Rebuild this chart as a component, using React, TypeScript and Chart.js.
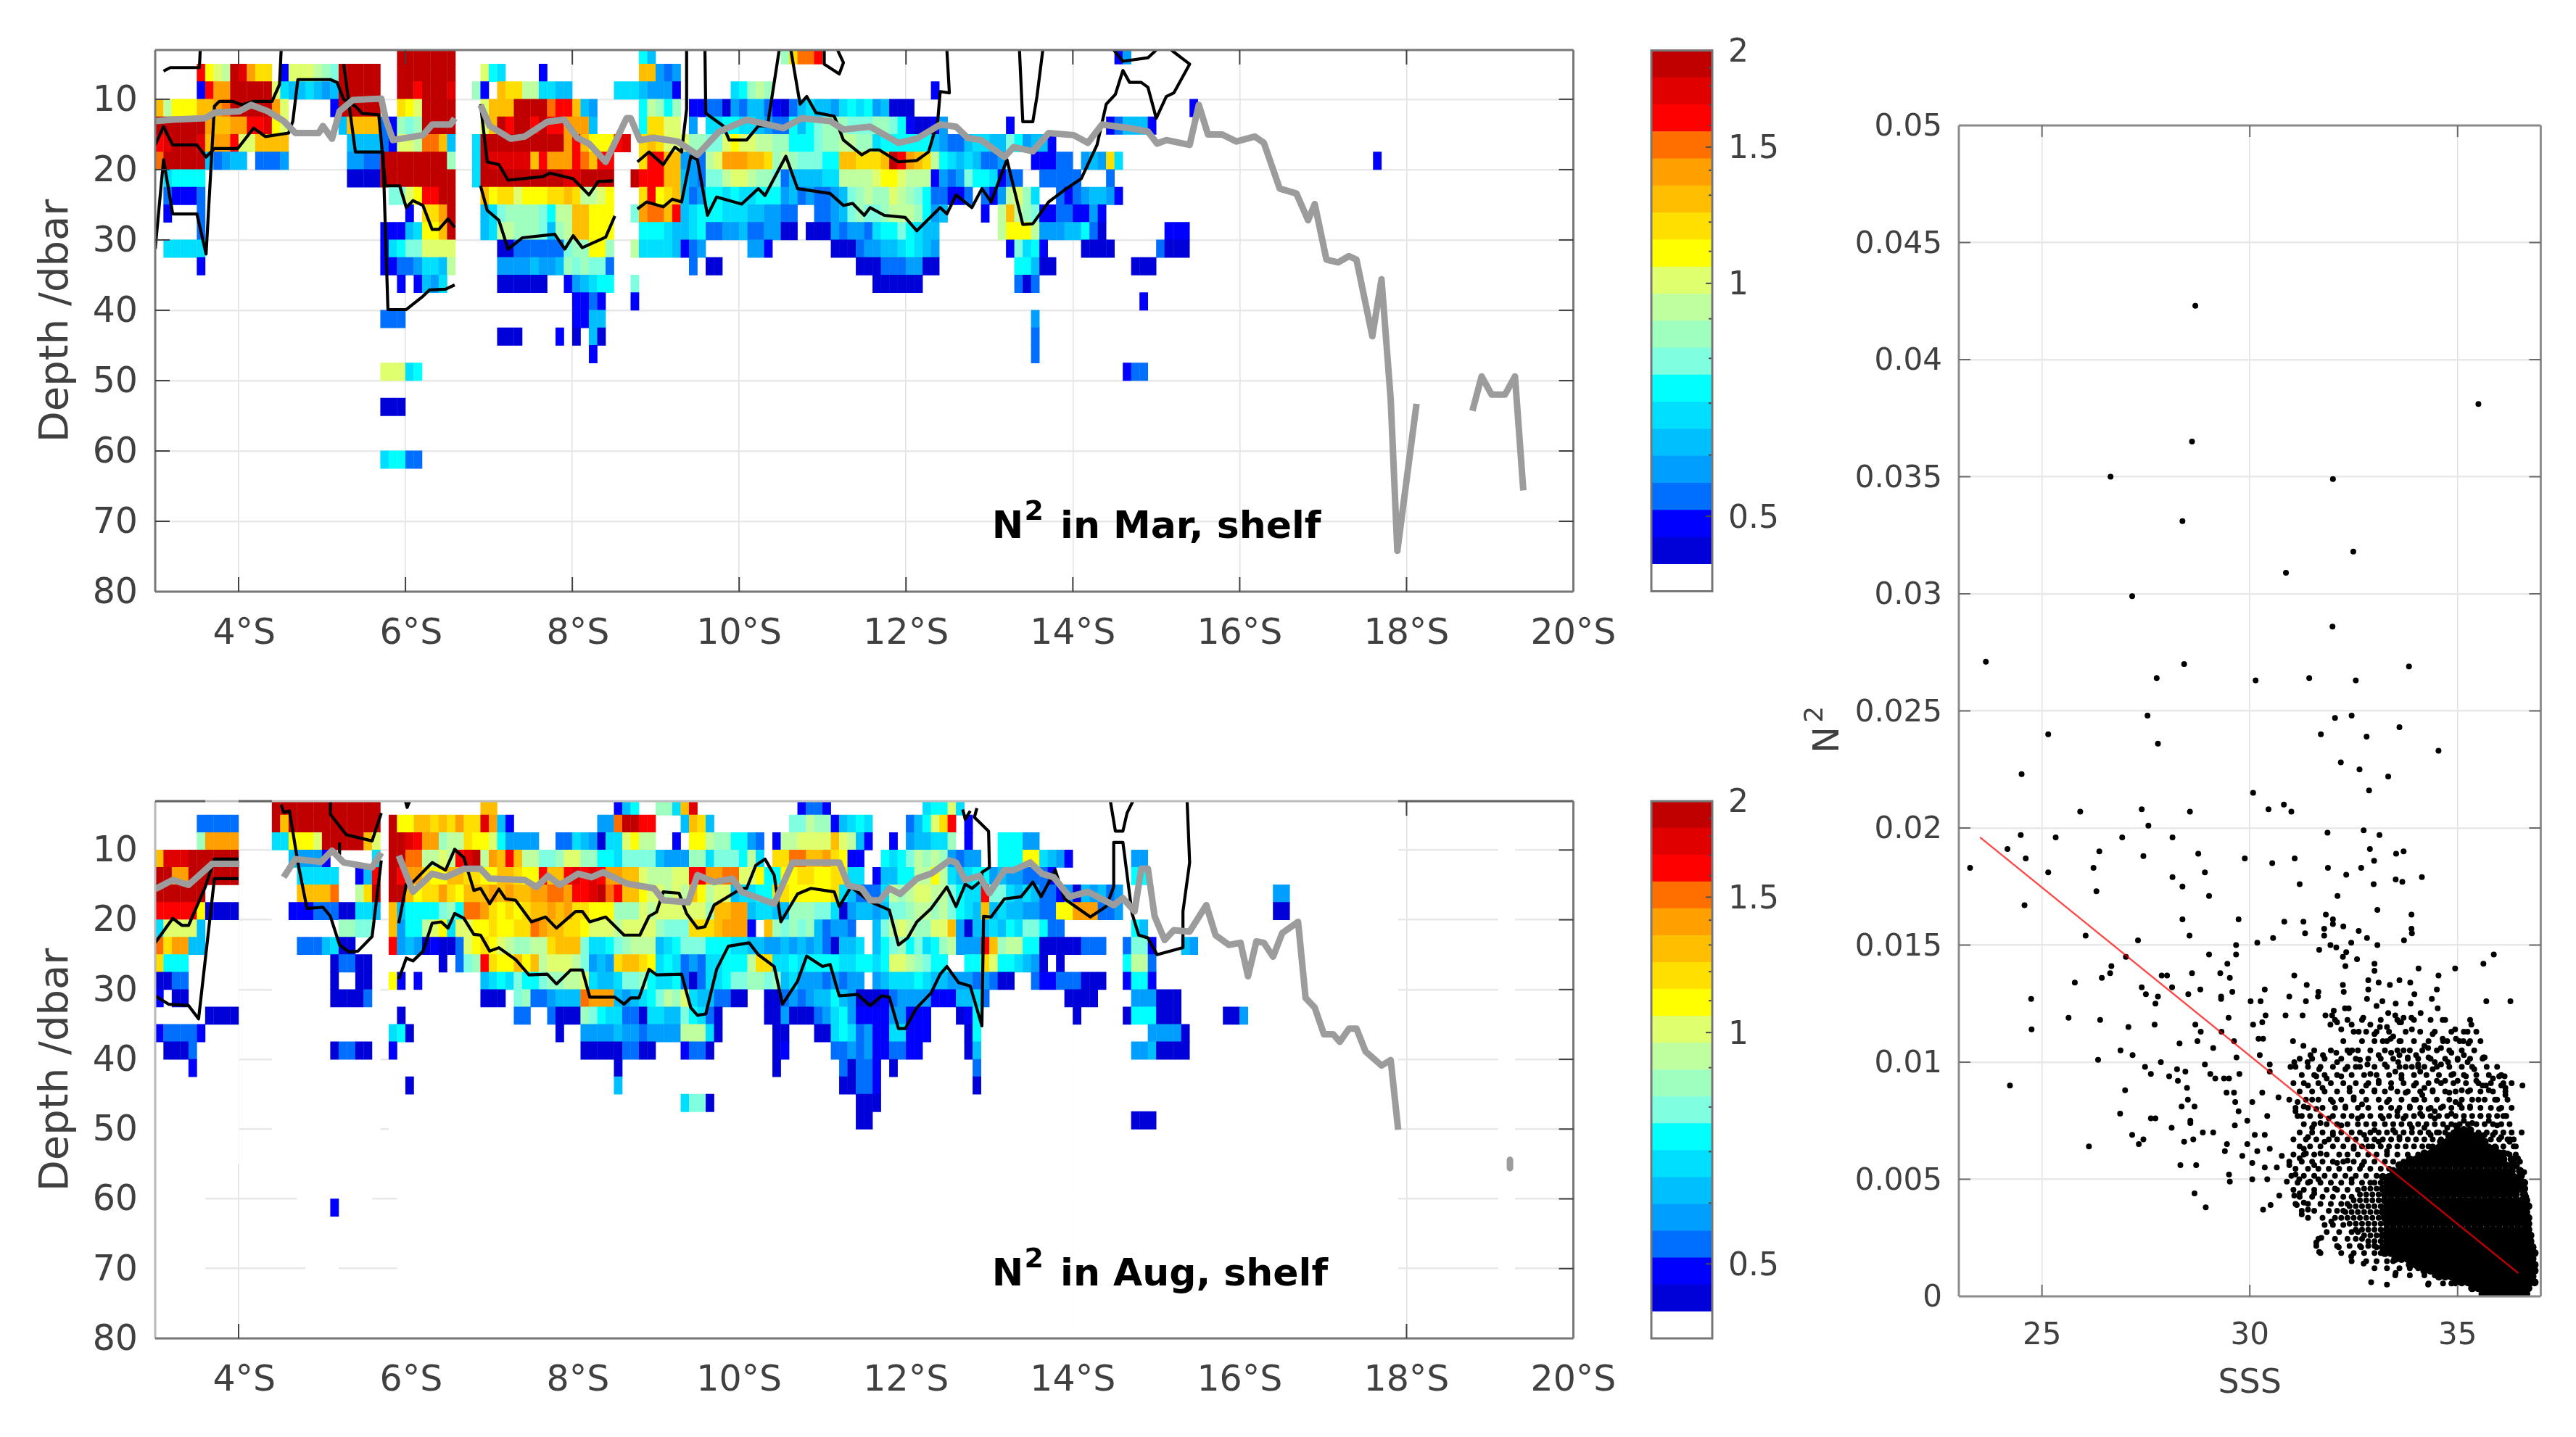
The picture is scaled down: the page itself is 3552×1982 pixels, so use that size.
import React, { useEffect, useRef } from "react";
import { Chart, registerables } from "chart.js";

Chart.register(...registerables);

// ---------- colour levels of the N2 scale (log spaced, 0.4 to 2) ----------
const levelEdges = [0.4, 0.4335, 0.4698, 0.5092, 0.5519, 0.5981, 0.6482, 0.7026, 0.7615, 0.8253, 0.8944, 0.9694, 1.0506, 1.1386, 1.234, 1.3375, 1.4496, 1.571, 1.7027, 1.8454, 2];
const levelColors = ["#ffffff", "#0000d8", "#0000ff", "#006fff", "#009fff", "#00bfff", "#00dfff", "#00ffff", "#7fffdf", "#9fffbf", "#c0ff9f", "#dfff6f", "#ffff00", "#ffdf00", "#ffbf00", "#ff9f00", "#ff6f00", "#ff0000", "#e00000", "#c00000"];
const levelCodes = ".abcdefghijklmnopqrs";
const colorbarTicks = [0.5, 0.6, 0.7, 0.8, 0.9, 1, 1.1, 1.2, 1.3, 1.4, 1.5, 1.6, 1.7, 1.8, 1.9, 2];
const colorbarLabels = [0.5, 1, 1.5, 2];

const depthEdges = [3, 5, 7.5, 10, 12.5, 15, 17.5, 20, 22.5, 25, 27.5, 30, 32.5, 35, 37.5, 40, 42.5, 45, 47.5, 50, 52.5, 55, 57.5, 60, 62.5, 65, 67.5, 70, 72.5, 75, 77.5, 80];
const latTicks = [4, 6, 8, 10, 12, 14, 16, 18, 20];
const depthTicks = [10, 20, 30, 40, 50, 60, 70, 80];

// ---------- March cells: [depth row, first 0.1 degree column, level codes] ----------
const marCells: [number, number, string][] = [
  [0, 29, "sssssss"], [0, 58, "ge"], [0, 75, "imppq"], [0, 115, "bd"],
  [1, 5, "qlkjsromm.bkkkjihsssss"], [1, 29, "sssssss"], [1, 39, "kgf"], [1, 46, "b"], [1, 58, "nndcd"],
  [2, 5, "bqoosssss"], [2, 14, "kfeefede"], [2, 22, "sssss"], [2, 29, "ssqsssr"], [2, 38, "ib.nmmjjffee"], [2, 55, "fffedddb"], [2, 69, "fgiji"], [2, 93, "b"],
  [3, 0, "njlllnnopsssssok"], [3, 21, "bsssss"], [3, 29, "mlkssss"], [3, 39, "knnnsssspqqned"], [3, 58, "gjigi.bbccadceecbacefeedfgfg"], [3, 86, "deaaa"], [3, 124, "b"],
  [4, 0, "ssssssonnooqqrlk"], [4, 22, "ennnncb"], [4, 29, "ihissss"], [4, 39, "knsqssqsqqoooe"], [4, 58, "gmmkk.d.ffggffedccgeghiiihhhh"], [4, 86, "iihgbaabd"], [4, 102, "b"], [4, 114, "bceeeb"],
  [5, 0, "qrsssrnooqkknnnn"], [5, 23, "eeeecbkkjppne"], [5, 38, "f"], [5, 39, "ssssssssssoqnlllqr"], [5, 58, "mnmkkkiihhklkkjjiiggghiijjii"], [5, 86, "fggggggedcceffeehgdeeb"],
  [6, 0, "psssssecdee.cccd"], [6, 23, "ddccssssssssi"], [6, 38, "f"], [6, 39, "srrrrrnqoooqpnqq"], [6, 58, "mqqnnddcjkooonnmijihhhggnnmm"], [6, 86, "mnsqonmjgfefeccd"], [6, 105, "bbbcc"], [6, 111, "dedmf"], [6, 146, "b"],
  [7, 1, "fgggg"], [7, 23, "aaaa"], [7, 27, "sssssssss"], [7, 38, "f"], [7, 39, "ssssssssssrrssss"], [7, 57, "sqqqnn"], [7, 63, "edchhjkkjiihceeeeffjjjj"], [7, 86, "kllkjjjbdcdhggfb"], [7, 102, "cc"], [7, 106, "ccccc"], [7, 114, "c"],
  [8, 1, "cbbbc"], [8, 28, "hhklqqss"], [8, 39, "nlmmklllmmnmjjkl"], [8, 58, "mqlmn"], [8, 63, "ecdggfgffgggdecdccdehij"], [8, 86, "iikjihgccbbc.cbdjkif..cbcdeedb"],
  [9, 1, "b"], [9, 5, "c"], [9, 30, "b.mmos"], [9, 39, "efhiiiihgjjnnlll"], [9, 57, "h"], [9, 58, "oppnq"], [9, 63, "efgggfffeeddcc..ccdehih"], [9, 86, "hijjjigde"], [9, 99, "b"], [9, 101, "jnjih"], [9, 106, "bbccbbdb"],
  [10, 5, "c"], [10, 27, "bbbefllns"], [10, 39, "efjjiiiheijnnlll"], [10, 58, "gggfeefgccddeccddaa.aaadcddc"], [10, 86, "fgghgfee"], [10, 101, "jlllj"], [10, 106, "dddeegca"], [10, 121, "bbb"],
  [11, 1, "fffff"], [11, 27, "bfghhkkkk"], [11, 41, "aacccccchiilli"], [11, 57, "j"], [11, 58, "ffffebcd"], [11, 71, "ddb"], [11, 81, "aaacd"], [11, 86, "deefgfed"], [11, 102, "bhfgb"], [11, 111, "aaaa"], [11, 120, "caaa"],
  [12, 5, "b"], [12, 27, "bbccdffej"], [12, 41, "ddddeddeihihhc"], [12, 64, "c"], [12, 66, "aa"], [12, 84, "a"], [12, 85, "aacccddaa"], [12, 103, "ggeaa"], [12, 117, "aaa"],
  [13, 29, "b.bedf"], [13, 41, "aaaaaa"], [13, 49, "bdefgg"], [13, 57, "h"], [13, 86, "aaaaaa"], [13, 103, "cac"],
  [14, 50, "bbcb"], [14, 57, "b"], [14, 118, "b"],
  [15, 27, "ccc"], [15, 50, "bbee"], [15, 105, "d"],
  [16, 41, "aaa"], [16, 48, "b"], [16, 50, "a"], [16, 52, "ea"], [16, 105, "c"],
  [17, 52, "b"], [17, 105, "c"],
  [18, 27, "kkkfg"], [18, 116, "bcc"],
  [20, 27, "aaa"],
  [23, 27, "fggcc"],
];

// ---------- August cells ----------
const augCells: [number, number, string][] = [
  [0, 14, "sssssssssssss"], [0, 39, "nn"], [0, 55, "beg"], [0, 60, "iifnr"], [0, 77, "bccb"], [0, 92, "fggkf"],
  [1, 5, "ccccc"], [1, 14, "snsssssssssss"], [1, 28, "sllnnmnmommroeb"], [1, 53, "ddpssqq"], [1, 63, "enme"], [1, 76, "hhjiibefgf"], [1, 90, "cegkmq.b"],
  [2, 5, "ioooo"], [2, 14, "fflllksssssnk"], [2, 28, "ssrqooijjmllkgdddd"], [2, 48, "ccfedaffkljj"], [2, 62, "b.lljiiggdc.bjjkkkknkjeb"], [2, 88, "b.deeffi"], [2, 97, "b"], [2, 101, "gggdd"],
  [3, 0, "nrrrssssss"], [3, 16, "edddb"], [3, 26, "f"], [3, 28, "ssppjjkjqrsjonqnjjhhikkiiggfhhhheddd"], [3, 64, "iifhhhgjf.mmppnnomlbb"], [3, 87, "gfghjiji"], [3, 95, "dcdd"], [3, 101, "gggllfedb"], [3, 117, "dd"],
  [4, 0, "ssoossssss"], [4, 17, "fffff"], [4, 24, "beq"], [4, 28, "sqoomllnnmmllnnmllqnnqrqrqoonnkjjjkkqqooppkklggllmmllmmff.b"], [4, 87, "eeggjjljfefggdeddcccb"], [4, 117, "gg"],
  [5, 0, "ssssss"], [5, 17, "nnnnp"], [5, 24, "jms"], [5, 28, "ssnlmmomlnnnononnooppoqqrspqnnlkkjkjnljkkeffggmmlllllmfecc"], [5, 86, "cfjijkkjjhgffqhhfefeccbdaedecd"], [5, 134, "dd"],
  [6, 0, "qqqqqlaaaa"], [6, 16, "bbbcccaaffe"], [6, 28, "negggghigppomlmlmnnonommllliiikjkkkkkkinnooeffeeiiihhfadee"], [6, 86, "dehhijjijhgfenefeeddcclloooccd"], [6, 134, "aa"],
  [7, 0, "fkkkke"], [7, 22, "iihh"], [7, 28, "ndggjklfkkllmllmmponnmmlkkkjkkkkihhhmmmnooob.nihihiecddc"], [7, 86, "ehjkjiikkndaeefegfhhgcc"], [7, 117, "ge"],
  [8, 0, "pmooee"], [8, 17, "cccefaa"], [8, 28, "qdedabaacklmlkjiijjmnnnhffghijjjefghhhgggffeeddededecaeef"], [8, 86, "eghighfgijdddqnijjggaaaaaccc"], [8, 116, "chhb"], [8, 123, "ed"],
  [9, 0, "mggg"], [9, 21, "accaa"], [9, 34, "a.chi"], [9, 39, "qmllnlnjkkkjhdedmnnmlfgfcdcffgggjmmffgfggggffgg"], [9, 86, "fgkkjihgg..ggmkggfeda.a"], [9, 116, "gjjc"],
  [10, 0, "aacc"], [10, 21, "a..aa"], [10, 28, "lb.b"], [10, 39, "efgfhgghiijjkfeefhhigffgcacffghhiihiefdddcdcdd"], [10, 86, "defffgfeedddcdcaa..cbbcccaaa"], [10, 116, "bggb"],
  [11, 0, "b.aa"], [11, 21, "aaaac"], [11, 39, "aaa"], [11, 43, "hiccdeeepoooedefghjikfeeccaa"], [11, 73, "aacdcdeegedaa"], [11, 86, "abcddddbbbeefc"], [11, 109, "aaaa"], [11, 117, "dddaaa"],
  [12, 6, "aaaa"], [12, 29, "a"], [12, 43, "cc"], [12, 47, "caaaihgffccaffeehgfca"], [12, 73, "aadaaacdfgdbb"], [12, 86, "bbddbbb"], [12, 96, "abg"], [12, 110, "a"], [12, 116, "agggaaa"], [12, 128, "aad"],
  [13, 0, "bccccb"], [13, 28, "fga"], [13, 48, "a"], [13, 51, "ddddeddcddddjjjfa"], [13, 74, "aa"], [13, 79, "aafgfcd"], [13, 86, "bbffbbb"], [13, 97, "ag"], [13, 119, "dddda"],
  [14, 1, "aaac"], [14, 21, "accaa"], [14, 28, "b"], [14, 51, "aaaaaccaa"], [14, 63, "bcca"], [14, 74, "ab"], [14, 81, "ccdcdbb"], [14, 88, "cc"], [14, 90, "bb"], [14, 97, "ae"], [14, 117, "ddeaaaa"],
  [15, 4, "b"], [15, 55, "a"], [15, 74, "a"], [15, 82, "caccb"], [15, 88, "a"], [15, 98, "c"],
  [16, 30, "a"], [16, 55, "e"], [16, 82, "aaccb"], [16, 98, "a"],
  [17, 63, "fhha"], [17, 84, "aaa"],
  [18, 84, "aa"], [18, 117, "aaa"],
  [23, 21, "b"],
];

// white (masked) August columns: [first column, last column, top depth, bottom depth]
const augMask: [number, number, number, number][] = [
  [0, 5, 3, 80], [6, 9, 3, 55], [14, 16, 3, 55], [17, 17, 3, 65], [18, 21, 3, 75], [22, 25, 3, 65], [26, 26, 3, 55], [28, 28, 3, 55], [29, 148, 3, 80], [161, 162, 3, 75],
];

// ---------- March lines: [latitudes, depths] ----------
const marGray0 = [[3.0, 3.21, 3.6, 3.71, 4.01, 4.15, 4.35, 4.54, 4.68, 4.96, 5.01, 5.12, 5.21, 5.37, 5.71, 5.76, 5.85, 6.21, 6.32, 6.54, 6.59], [13.1, 12.9, 12.7, 11.9, 11.7, 10.8, 11.7, 13.1, 14.8, 14.8, 13.8, 15.6, 11.7, 10.1, 9.9, 12.7, 15.8, 15.1, 13.6, 13.6, 12.7]];
const marGray1 = [[6.9, 7.01, 7.26, 7.43, 7.7, 7.9, 8.06, 8.2, 8.4, 8.65, 8.7, 8.81, 8.98, 9.26, 9.5, 9.76, 10.09, 10.53, 10.75, 11.09, 11.25, 11.57, 11.91, 12.13, 12.41, 12.6, 12.74, 12.9, 13.18, 13.29, 13.52, 13.71, 14.01, 14.18, 14.35, 14.68, 14.9, 15.01, 15.12, 15.4, 15.51, 15.62, 15.79, 15.96, 16.18, 16.29, 16.48, 16.68, 16.82, 16.9, 17.04, 17.18, 17.31, 17.4, 17.59, 17.7, 17.81, 17.89, 18.07, 18.12],
  [10.8, 13.8, 15.6, 15.3, 13.2, 12.9, 15.5, 16.3, 18.9, 12.7, 12.7, 15.8, 15.5, 16, 17.9, 14.6, 12.9, 14.1, 12.7, 13.1, 14.3, 13.9, 16.2, 15.6, 13.6, 13.9, 15.5, 15.8, 18.2, 16.8, 17.4, 14.8, 15.1, 16.2, 13.6, 14.1, 14.6, 16.3, 15.8, 16.5, 10.8, 15, 15, 16, 15.3, 16.2, 22.7, 23.4, 27.2, 24.9, 32.8, 33.2, 32.3, 32.8, 43.7, 35.6, 52.6, 74.2, 57.8, 53.3]];
const marGray2 = [[18.79, 18.9, 19.02, 19.18, 19.3, 19.4], [54.3, 49.4, 52, 52, 49.4, 65.6]];
const marBlack0 = [[3.1, 3.18, 3.53, 3.54], [6, 5.5, 5.5, 3]];
const marBlack1 = [[3.0, 3.1, 3.21, 3.5, 3.61, 3.71, 3.77, 3.93, 4.04, 4.18, 4.4, 4.49, 4.51], [31.3, 18.6, 26.3, 26.3, 32, 11, 10.3, 10.3, 10.8, 10.3, 10.3, 7.9, 3]];
const marBlack2 = [[3.0, 3.1, 3.21, 3.5, 3.61, 3.71, 3.99, 4.18, 4.32, 4.6, 4.65, 4.71, 5.1, 5.18, 5.26, 5.4, 5.48, 5.68, 5.76, 5.93, 6.01, 6.09, 6.21, 6.32, 6.4, 6.51, 6.59], [16.5, 13.9, 16.5, 16.5, 18.2, 17, 17, 14.1, 15.3, 14.8, 13.1, 7.2, 7.2, 7.6, 10, 11, 12, 12.2, 22.3, 22.3, 25.4, 24.4, 25.1, 28.5, 28.5, 27, 28.2]];
const marBlack3 = [[5.26, 5.4, 5.73, 5.79, 6.01, 6.21, 6.29, 6.48, 6.59], [5, 17.5, 17.5, 39.9, 39.9, 38, 37.1, 37, 36.4]];
const marBlack4 = [[6.9, 6.98, 7.12, 7.23, 7.65, 7.73, 8.01, 8.2, 8.31, 8.49], [10.7, 18.9, 19.3, 21.5, 21, 20.5, 21.3, 23.6, 21.7, 21.6]];
const marBlack5 = [[6.9, 6.98, 7.12, 7.23, 7.4, 7.79, 7.91, 8.01, 8.12, 8.4, 8.51], [22.3, 25.8, 27.2, 31.3, 29.7, 29.2, 31.3, 29.4, 31.1, 29.6, 26.6]];
const marBlack6 = [[8.78, 8.92, 9.09, 9.23, 9.31, 9.37, 9.37], [18.9, 17.5, 19.3, 16.8, 17.5, 11.4, 3]];
const marBlack7 = [[8.78, 8.89, 9.09, 9.2, 9.31, 9.42, 9.5, 9.62, 9.73, 10.03, 10.23, 10.31, 10.56, 10.7, 11.09, 11.25, 11.36, 11.5, 11.57, 11.74, 11.99, 12.13, 12.41, 12.49, 12.6, 12.79, 12.91, 13.02, 13.21, 13.4, 13.52, 13.71, 13.9, 14.1, 14.29, 14.4, 14.51, 14.6, 14.68, 14.82, 14.9, 15.0, 15.12, 15.21, 15.4, 15.18],
  [25.6, 24.6, 25.3, 24.2, 24.6, 18.1, 18.6, 26.5, 23.9, 24.9, 22.7, 23.7, 18.1, 22.7, 23.4, 25.1, 24.8, 26.5, 25.4, 26.5, 26.8, 28.7, 25.4, 26.3, 23.6, 25.4, 22.7, 24.6, 18.6, 27.8, 27.7, 24.6, 22.9, 21.3, 16.5, 10.7, 9.3, 5.9, 7.6, 7.6, 8.3, 12.7, 9.6, 9.1, 5, 3]];
const marBlack8 = [[9.59, 9.6, 9.81, 9.88, 10.09, 10.23, 10.34, 10.48], [3, 12, 13.8, 15.8, 15.8, 13.8, 13.8, 3]];
const marBlack9 = [[10.62, 10.73, 10.81, 10.92, 11.14, 11.25, 11.47, 11.57, 11.68, 11.91, 12.13, 12.27, 12.38, 12.41, 12.52, 12.49], [3, 10.7, 9.6, 11.9, 12.4, 15.8, 17.9, 17.2, 17.2, 18.9, 18.7, 17.5, 13.1, 8.9, 9.1, 3]];
const marBlack10 = [[11.02, 11.02, 11.2, 11.25, 11.18], [3, 5, 6.4, 4.8, 3]];
const marBlack11 = [[13.36, 13.4, 13.52, 13.57, 13.64], [3, 13.2, 13.2, 9.6, 3]];
const marBlack12 = [[14.49, 14.6, 14.9, 15.0], [3, 4.6, 4.1, 3]];

// ---------- August lines ----------
const augGray0 = [[3, 3.21, 3.4, 3.68, 4.01], [15.6, 14.3, 15, 12, 12]];
const augGray1 = [[4.54, 4.68, 4.99, 5.12, 5.26, 5.6, 5.71], [13.9, 11.3, 11.7, 10.1, 11.8, 12.5, 10.4]];
const augGray2 = [[5.92, 6.09, 6.32, 6.48, 6.7, 6.9, 7.01, 7.43, 7.57, 7.71, 7.85, 8.07, 8.23, 8.37, 8.65, 8.98, 9.09, 9.39, 9.5, 9.7, 9.92, 10.03, 10.42, 10.64, 11.2, 11.31, 11.47, 11.57, 11.69, 11.8, 11.93, 12.13, 12.3, 12.52, 12.6, 12.71, 12.88, 13.0, 13.18, 13.29, 13.49, 13.63, 13.77, 13.96, 14.18, 14.49, 14.6, 14.74, 14.82, 14.9, 14.98, 15.1, 15.21, 15.4, 15.6, 15.71, 15.87, 16.01, 16.1, 16.2, 16.29, 16.4, 16.51, 16.7, 16.79, 16.9, 17.01, 17.12, 17.2, 17.31, 17.4, 17.51, 17.7, 17.81, 17.9],
  [10.8, 16, 13.4, 13.9, 12.7, 12.7, 14.1, 14.3, 15.3, 13.7, 15, 13.4, 13.9, 13.2, 14.8, 15.5, 17.2, 17.5, 13.6, 14.6, 14.1, 16, 17.7, 11.8, 11.8, 15.1, 15.5, 17.2, 17.2, 15.5, 16.3, 14.1, 13.4, 11.5, 11.8, 14.3, 13.7, 16.2, 12.9, 12.9, 11.8, 13.4, 13.9, 16.7, 16, 17.9, 16.9, 18.8, 12.7, 12.7, 19.5, 22.9, 21.5, 21.7, 17.9, 22.2, 23.6, 23.3, 28.1, 23.1, 23.3, 25.3, 21.9, 20.3, 31.2, 32.6, 36.4, 36.4, 37.5, 35.6, 35.6, 38.9, 40.9, 40.1, 50.1]];
const augGray3 = [[19.24, 19.24], [54.4, 55.6]];
const augBlack0 = [[3.0, 3.21, 3.32, 3.4, 3.6, 3.71, 4.0], [23.3, 19.8, 20.8, 20.8, 15.3, 11.3, 11.3]];
const augBlack1 = [[3, 3.16, 3.4, 3.52, 3.71, 4], [30.9, 32.1, 32.3, 34.2, 14.1, 14.1]];
const augBlack2 = [[4.51, 4.54, 4.61, 4.71, 4.82, 5.01, 5.1, 5.21, 5.32, 5.43, 5.6, 5.71], [3.5, 4.6, 4.4, 11.8, 18.4, 18.2, 19.5, 23.6, 24.6, 24.5, 22.4, 11.5]];
const augBlack3 = [[5.1, 5.1, 5.29, 5.6, 5.71], [3, 4.9, 7.8, 8.7, 4.7]];
const augBlack4 = [[5.21, 5.21], [9.1, 10.6]];
const augBlack5 = [[6, 6.02, 6.05], [3, 3.9, 3]];
const augBlack6 = [[5.92, 6.01, 6.09, 6.32, 6.48, 6.59, 6.7, 6.82, 6.9, 7.01, 7.12, 7.2, 7.32, 7.51, 7.68, 7.81, 8.04, 8.12, 8.21, 8.4, 8.62, 8.81, 8.92, 9.01, 9.09, 9.28, 9.37, 9.5, 9.59, 9.7, 9.92, 10.03, 10.09, 10.2, 10.31, 10.42, 10.5, 10.7, 10.86, 11.14, 11.2, 11.34, 11.57, 11.8, 11.91, 12.02, 12.13, 12.3, 12.49, 12.6, 12.71, 12.79, 12.91, 12.91, 13.0, 12.99, 12.82, 12.85],
  [20.5, 14.9, 14.6, 11.8, 12.9, 9.9, 11.1, 15.8, 15.5, 17.7, 15.6, 17, 17.2, 20.3, 19.6, 21.2, 18.8, 18.8, 20.3, 19.6, 22.2, 22.2, 19.5, 18.9, 16, 16.2, 19.1, 21.2, 21, 17.9, 16.3, 15.5, 15.5, 12.2, 11.3, 13.6, 20.3, 16.3, 15.5, 16, 18.1, 15.3, 17.4, 18.6, 23.6, 22.6, 20.3, 18.4, 15.3, 18.1, 14.9, 15.5, 14.3, 13.2, 12.5, 7.3, 5.3, 4]];
const augBlack7 = [[5.92, 6.01, 6.09, 6.21, 6.32, 6.43, 6.51, 6.59, 6.7, 6.82, 6.9, 7.01, 7.12, 7.32, 7.48, 7.7, 7.81, 7.98, 8.12, 8.21, 8.51, 8.62, 8.7, 8.8, 8.92, 9.01, 9.31, 9.42, 9.5, 9.6, 9.73, 9.87, 10.12, 10.23, 10.42, 10.52, 10.7, 10.81, 11.0, 11.09, 11.2, 11.42, 11.57, 11.71, 11.8, 11.91, 11.99, 12.13, 12.3, 12.41, 12.49, 12.63, 12.77, 12.91, 12.93, 13.02, 13.18, 13.38, 13.52, 13.62, 13.79, 13.9, 14.21, 14.4, 14.49, 14.49, 14.6, 14.71, 14.79, 14.9, 15.01, 15.32, 15.32, 15.4, 15.37],
  [28.5, 25.5, 25.9, 24.5, 20.5, 20.3, 21.2, 19.1, 19.8, 22.1, 22.2, 24.5, 24, 25.7, 27.9, 27.8, 29.2, 27.2, 27.2, 31.1, 31.1, 32.1, 31.2, 31.2, 27.1, 27.9, 27.8, 32.6, 33.7, 33.5, 27.1, 23.8, 23.3, 25, 26.7, 32.1, 28.8, 25.2, 26.7, 26.4, 30.9, 30.7, 32.3, 30.9, 31.1, 35.6, 35.6, 32.6, 30.5, 27.8, 26.7, 29, 29.5, 35.2, 19.5, 19.6, 17, 16.7, 14.6, 16.7, 12.9, 17, 19.6, 18.1, 15.3, 8.9, 8.9, 19.1, 22.2, 22.6, 25, 24, 18.8, 11.8, 3]];
const augBlack8 = [[14.45, 14.51, 14.6, 14.65, 14.72], [3, 7.3, 7.3, 4.7, 3]];
const augBlack9 = [[12.68, 12.71, 12.77], [4.2, 5.6, 4.4]];

// ---------- Scatter: N2 in units of 1e-3 ----------
const scatterFit = [[23.51, 36.46], [19.6, 0.99]];
const sparseSSS = [28.69, 35.5, 28.61, 26.65, 32, 28.38, 32.49, 30.87, 27.17, 31.99, 23.65, 28.42, 33.83, 27.76, 31.43, 30.14, 32.55, 27.54, 32.45, 32.05, 25.15, 31.71, 33.6, 32.81, 27.79, 34.54, 32.19, 24.51, 32.64, 33.33, 32.87, 30.08, 30.82, 27.4, 30.45, 25.92, 28.56, 31, 27.56,
  31.87, 32.74, 33.12, 24.49, 25.33, 26.93, 28.14, 24.17, 32.89, 26.38, 33.7, 33.52, 28.76, 27.44, 29.88, 24.61, 31.08, 32.99, 30.54, 26.24, 23.27, 31.88, 32.68, 25.15, 28.92, 32.32, 34.14, 28.14, 33.51, 33.67, 31.2, 32.98, 28.38, 26.31, 29.02, 32.11, 24.58, 33.07, 33.89, 31.83, 28.38, 32, 29.73, 30.83, 31.29, 32, 32.25, 31.79, 33.89, 32.62, 31.33, 33.9, 31.79, 26.05, 28.55, 30.56, 32.82, 27.31, 33.71, 30.18, 29.67, 32.44, 33.07, 31.94, 32.08, 31.67, 32.32, 32.24, 29.02, 29.67, 35.87, 27.02, 32.58, 35.62, 29.46, 32.3, 26.67, 33, 34.06, 34.94, 26.64, 33, 29.29, 28.61, 27.88, 28.01, 34.54, 31.07, 26.44, 29.52, 32.85, 33.6, 33.1, 33.86, 25.79, 33.37, 31.37, 32.24, 27.4, 28.13, 30.36, 28.81, 34.5, 29.58, 32.26, 32.85, 31.65, 33.96, 27.5, 28.52, 29.31, 30.95, 31.64, 27.79, 24.74, 32.82, 34.38, 29.31, 30.02, 30.26, 31.35, 33.19, 35.69, 36.27, 33.51, 33.87, 27.73, 33.05, 34.52, 32.29, 32.38, 32.02, 34.11, 30.86, 31.27, 31.82, 31.98, 30.38, 32.73, 33.33, 33.89, 25.64, 29.49, 26.4, 34.64, 30.3, 33.64, 31.94, 32.45, 27.71, 28.69, 30.08, 27.08, 35.33, 33.13, 24.75, 34.94, 28.82, 29.32, 35.24, 32.62, 34.4, 30.21, 30.32, 34.64, 34.96, 33.39, 31.04, 29.62, 28.74, 33.63, 28.31, 35.14, 35.26, 31.29, 34.29, 32.46, 29.12, 26.89, 31.46, 32.08, 27.18, 34, 31.76, 35.62, 30.24, 29.68, 26.35, 31.07, 31.39, 32.83, 30.48, 27.86, 34.45, 34.77, 35.24, 28.92, 27.48, 34.05, 30.98, 28.25, 31.67, 33.57, 27.62, 28.45, 29.75, 30.48, 29.05, 28.06, 29.17, 29.38, 29.5, 28.27, 36.13, 35.68, 24.23, 36.56, 28.49, 27, 36.15, 29.44, 30.3, 29.62, 28.51, 30.69, 29.65, 28.36, 28.67, 30.06, 26.88, 29.73, 27.62, 27.73, 30.42, 36.17, 29.94, 28.57, 28.57, 29.64, 28.12, 36.54, 27.17, 28.87, 29.12, 36.26, 27.44, 28.42, 28.64, 27.33, 29.45, 26.13, 29.4, 28.33, 28.71, 29.5, 29.52, 30.06, 30.42, 28.67, 28.94, 30.32, 30.5, 30.71,
  29.82, 29.94, 30.12, 30.36, 30.18, 30.48, 30.06, 30.36, 30.65, 30.77, 30.95, 30.89, 31.07, 31.13, 31.25, 31.19];
const sparseN2 = [42.3, 38.1, 36.5, 35, 34.9, 33.1, 31.8, 30.9, 29.9, 28.6, 27.1, 27, 26.9, 26.4, 26.4, 26.3, 26.3, 24.8, 24.8, 24.7, 24, 24, 24.3, 23.9, 23.6, 23.3, 22.8, 22.3, 22.5, 22.2, 21.6, 21.5, 21, 20.8, 20.8, 20.7, 20.7, 20.7, 20.1,
  19.8, 19.9, 19.7, 19.7, 19.6, 19.6, 19.6, 19.1, 19.1, 19, 19, 18.9, 18.9, 18.8, 18.7, 18.7, 18.7, 18.6, 18.5, 18.3, 18.3, 18.3, 18.3, 18.1, 18.1, 18, 17.9, 17.9, 17.8, 17.7, 17.6, 17.6, 17.5, 17.3, 17.1, 17.1, 16.7, 16.5, 16.3, 16.3, 16.1, 16.1, 16.1, 16, 16, 15.9, 15.8, 15.7, 15.7, 15.6, 15.5, 15.5, 15.4, 15.4, 15.4, 15.3, 15.3, 15.2, 15.2, 15.1, 15, 15.1, 15, 15, 14.9, 14.8, 14.7, 14.5, 14.6, 14.6, 14.6, 14.5, 14.4, 14.2, 14.2, 14.1, 14.1, 14.2, 14, 14, 13.8, 13.9, 13.8, 13.8, 13.7, 13.7, 13.7, 13.7, 13.6, 13.6, 13.5, 13.5, 13.4, 13.4, 13.4, 13.3, 13.3, 13.3, 13.2, 13.2, 13.1, 13.1, 13.1, 13, 13, 13.1, 13, 12.9, 12.9, 12.9, 12.8, 12.8, 12.8, 12.8, 12.7, 12.7, 12.7, 12.7, 12.6, 12.6, 12.6, 12.6, 12.6, 12.6, 12.5, 12.5, 12.5, 12.4, 12.3, 12.3, 12.3, 12.2, 12.1, 12, 12, 12, 12, 12, 11.9, 12.1, 11.9, 11.9, 11.9, 11.8, 11.8, 11.7, 11.7, 11.6, 11.6, 11.6, 11.6, 11.6, 11.5, 11.6, 11.5, 11.4, 11.4, 11.3, 11.3, 11.3, 11.3, 11.2, 11, 11, 11, 11, 11, 10.9, 10.9, 10.9, 10.9, 10.8, 10.9, 10.8, 10.7, 10.6, 10.5, 10.6, 10.5, 10.3, 10.4, 10.3, 10.3, 10.3, 10.2, 10.3, 10.2, 10.1, 10, 10, 9.9, 9.9, 10, 10, 10, 10, 9.9, 9.8, 9.8, 9.8, 9.7, 9.7, 10, 9.5, 9.6, 9.5, 9.6, 9.5, 9.4, 9.3, 9.3, 9.3, 9.2, 9.4, 9, 9, 9, 8.9, 8.8, 8.9, 8.7, 8.7, 8.7, 8.4, 8.5, 8.3, 8.1, 8.1, 8.3, 7.8, 7.9, 7.6, 7.6, 7.7, 7.7, 7.5, 7.5, 7.4, 7.3, 7.2, 7, 6.9, 7, 7, 6.7, 6.7, 6.6, 6.7, 6.5, 6.5, 6.4, 6.2, 5.6, 5.6, 5.2, 4.9, 5, 5, 4.4, 3.8, 3.7, 3.9, 4.3,
  6, 6.5, 6.9, 6.9, 6.2, 6.3, 5.7, 5.5, 5.5, 6, 5.6, 4.9, 4.3, 3.9, 3.5, 5];
const midSSS = [31.1, 31.2, 31.3, 31.4, 31.5, 31.55, 31.6, 31.7, 31.8, 31.5, 31.3, 31.15, 31.25, 31.1, 31.35, 31.45, 31.2, 31.3, 31.4, 31.55, 31.65, 31.7, 31.75, 31.85, 31.4, 31.6, 31.9, 32, 32, 32.1, 32.05, 32.2, 32.3, 32.4, 32.5, 32.2, 32.55, 32.65, 32.4, 32.1, 32.3, 32.7, 32.8, 32.9, 33, 33.1, 32.75, 32.6, 32.5, 32.35, 32.45, 32.7, 32.85, 33, 33.1, 33.2, 33.3, 33.4, 33.5, 33.25, 33.1, 33.2, 33, 32.9, 33.3, 33.4, 33.45, 33.6, 33.65, 33.75, 33.55, 33.45, 33.3, 33.6, 33.7, 33.85, 33.95, 34, 34.1, 34.2, 33.9, 34.1, 34.2, 34.3, 34.4, 34.5, 34.6, 34.7, 34.8, 34.9, 35, 35.1, 35.2, 35.3, 35.45, 35.6, 35.75, 35.9, 36, 35.5, 35.3, 35.05, 34.85, 34.65, 34.45, 34.35, 34.55, 34.75, 34.95, 35.15, 35.35, 35.55, 35.75, 35.95, 36.1, 36.25, 36.05, 35.85, 35.65, 35.45, 35.25, 35.05, 34.85, 34.65, 36.2, 36.35, 36.5, 36.6, 36.45, 36.05, 35.85, 36.15, 36, 34.3, 34.6, 34.85, 35, 35.15, 34.2, 34.4, 34.75, 33.5, 33.6, 33.7, 33.8, 33.9, 33.7, 32.2, 32.1, 31.6, 31.67, 31.72, 32.14, 32.44, 32.68, 32.92, 33.3, 34.29, 33.51, 32.74, 31.96, 34.45, 34.15, 34.95, 35.4, 34.05, 33.75, 35.65, 36.4];
const midN2 = [5.2, 5.9, 6.3, 6.8, 7.2, 5.6, 8, 7.4, 6.6, 8.4, 8.1, 8.3, 7.7, 7.9, 6.1, 4.9, 4.4, 4, 3.7, 4.4, 5, 6.1, 8.9, 9.3, 9, 9.4, 7.6, 8.3, 6.9, 5.7, 4.6, 7.3, 8.1, 8.9, 8.5, 9.4, 9.8, 10.1, 10.4, 10, 9.7, 8.2, 9, 9.5, 8.8, 9.2, 6.9, 7.6, 6.3, 5.8, 5, 5.6, 6.4, 7.1, 6.6, 7.6, 8.3, 8.9, 9.6, 9.9, 10.3, 10.9, 11.2, 11.6, 11.5, 10.4, 11.1, 10.3, 9.3, 8.7, 7.9, 7.1, 6.2, 6.8, 7.6, 8.1, 9, 8.4, 9.6, 8.9, 7.2, 7.8, 7.2, 8, 8.8, 9.2, 9.9, 9.2, 8.7, 9.5, 9.2, 8.8, 9.4, 8.8, 9.2, 9, 8.8, 8.4, 8, 8.4, 8.1, 8.2, 7.8, 8.1, 7.6, 6.9, 7, 7.2, 7.3, 7.5, 7.4, 7.7, 7.5, 7.3, 7.7, 6.6, 6.8, 6.9, 6.9, 6.8, 6.8, 6.8, 6.8, 6.6, 6.1, 5.7, 5.4, 5.3, 5.9, 9, 9.3, 8.6, 9.4, 10.2, 10.6, 10.4, 10.1, 10.3, 10.7, 9.7, 10.9, 12, 11.7, 10.5, 10.2, 11.4, 11.9, 11.4, 11.7, 2.3, 1.9, 2.5, 2.1, 1.7, 2.1, 0.6, 0.5, 0.5, 1, 1.4, 3.2, 7.9, 8.6, 8.3, 9.7, 9.9, 9.8, 10.2, 6.4];
const speckN2 = [11.8, 11.3, 10.9, 10.5, 10.15, 9.8, 9.45, 9.1, 8.75, 8.4, 8.05, 7.7, 7.35, 7, 6.7, 6.4, 6.05, 5.75, 5.45, 5.15, 4.85, 4.55, 4.25, 3.95, 3.65, 3.35, 3.05, 2.75, 2.45, 2.15, 1.85, 1.5, 1.2, 0.9, 0.55];
const speckSSS = [
  [32.05, 32.35, 32.7, 33.15, 33.55, 33.95, 34.35, 34.7, 35.3],
  [32.5, 32.8, 33.05, 33.35, 33.75, 34.1, 34.45, 34.85, 35.15, 35.45],
  [32.25, 32.7, 33, 33.3, 33.6, 33.95, 34.3, 34.65, 35.05, 35.3, 35.55],
  [31.55, 31.95, 32.35, 32.6, 32.9, 33.25, 33.55, 33.85, 34.15, 34.5, 34.8, 35.1, 35.4],
  [31.2, 31.5, 31.8, 32.2, 32.55, 32.85, 33.15, 33.45, 33.8, 34.05, 34.35, 34.7, 35, 35.3, 35.6],
  [31.1, 31.4, 31.7, 32, 32.35, 32.65, 33, 33.3, 33.6, 33.9, 34.2, 34.5, 34.8, 35.1, 35.35, 35.7, 35.95],
  [31.25, 31.55, 31.8, 32.1, 32.45, 32.75, 33.05, 33.35, 33.65, 33.95, 34.25, 34.55, 34.85, 35.15, 35.45, 35.75, 36.05],
  [31.05, 31.3, 31.65, 31.95, 32.25, 32.55, 32.85, 33.1, 33.4, 33.7, 34, 34.3, 34.6, 34.9, 35.2, 35.5, 35.8, 36.1, 36.3],
  [31.2, 31.5, 31.8, 32.1, 32.4, 32.7, 33, 33.25, 33.55, 33.8, 34.1, 34.4, 34.7, 34.95, 35.25, 35.55, 35.85, 36.15],
  [30.95, 31.35, 31.65, 31.95, 32.2, 32.5, 32.8, 33.1, 33.35, 33.65, 33.95, 34.2, 34.5, 34.8, 35.1, 35.35, 35.65, 35.95, 36.2],
  [31.1, 31.4, 31.75, 32.05, 32.3, 32.6, 32.85, 33.15, 33.4, 33.6, 33.85, 34.1, 34.35, 34.6, 34.85, 35.1, 35.3, 35.55, 35.8, 36.05, 36.3],
  [31.15, 31.45, 31.7, 32, 32.25, 32.45, 32.7, 32.9, 33.15, 33.35, 33.55, 33.75, 33.95, 34.15, 34.35, 34.55, 34.75, 34.95, 35.15, 35.35, 35.55, 35.75, 35.95, 36.15],
  [31.3, 31.55, 31.85, 32.1, 32.35, 32.6, 32.8, 33, 33.25, 33.45, 33.65, 33.85, 34.05, 34.25, 34.45, 34.65, 34.85, 35.05, 35.25, 35.45, 35.65, 35.85, 36.05, 36.25],
  [31.2, 31.5, 31.75, 32, 32.2, 32.45, 32.65, 32.9, 33.1, 33.3, 33.5, 33.7, 33.9, 34.1, 34.3, 34.5, 34.7, 34.9, 35.1, 35.3, 35.5, 35.7, 35.9, 36.1, 36.3],
  [31.05, 31.35, 31.6, 31.9, 32.1, 32.35, 32.55, 32.8, 33, 33.2, 33.4, 33.6, 33.8, 34, 34.2, 34.4, 34.6, 34.8, 35, 35.2, 35.4, 35.6, 35.8, 36, 36.2, 36.35],
  [31.2, 31.45, 31.7, 32, 32.25, 32.5, 32.7, 32.95, 33.15, 33.35, 33.55, 33.75, 33.95, 34.15, 34.3, 36.1, 36.35],
  [31.05, 31.3, 31.55, 31.85, 32.15, 32.35, 32.6, 32.85, 33.05, 33.3, 33.55, 33.8, 34.05, 36.25, 36.4],
  [30.95, 31.25, 31.5, 31.75, 32, 32.25, 32.5, 32.75, 33, 33.25, 33.45, 33.7, 36.35, 36.5],
  [31.1, 31.4, 31.65, 31.9, 32.15, 32.4, 32.65, 32.9, 33.15, 33.35],
  [31, 31.3, 31.55, 31.8, 32.05, 32.3, 32.55, 32.8, 33.05, 36.55],
  [31.15, 31.4, 31.7, 31.95, 32.2, 32.45, 32.7, 32.9],
  [31.05, 31.3, 31.55, 31.85, 32.1, 32.35, 32.6],
  [31.2, 31.5, 31.75, 32, 32.25, 32.45, 36.65],
  [31.1, 31.4, 31.7, 31.95, 32.2, 32.35],
  [31.25, 31.55, 31.9, 32.1, 32.25],
  [31.4, 31.75, 32.05, 32.2],
  [31.8, 32, 32.25],
  [31.85, 32.15, 32.45, 32.6],
  [31.65, 32.05, 32.35, 32.55, 32.7],
  [31.6, 32.1, 32.4, 32.65, 32.85, 33],
  [31.7, 32.2, 32.5, 32.75, 33, 33.15],
  [32.45, 32.8, 33.05, 33.3, 33.45],
  [33, 33.3, 33.6, 33.85, 34.05],
  [33.5, 33.85, 34.2, 34.45],
  [34.3, 34.65, 34.85],
];
const cloudN2 = [0.1, 0.35, 0.6, 0.85, 1.1, 1.35, 1.6, 1.85, 2.1, 2.35, 2.6, 2.85, 3.1, 3.35, 3.6, 3.85, 4.1, 4.35, 4.6, 4.85, 5.1, 5.35, 5.6, 5.85, 6.1, 6.35, 6.6, 6.85, 7.1];
const cloudSSS = [
  [35.6, 35.75, 35.9, 36.05, 36.2, 36.35, 36.5, 36.65],
  [35.35, 35.5, 35.65, 35.8, 35.95, 36.1, 36.25, 36.4, 36.55, 36.7],
  [34.95, 35.1, 35.25, 35.4, 35.55, 35.7, 35.85, 36, 36.15, 36.3, 36.45, 36.6, 36.75, 36.85],
  [34.55, 34.7, 34.85, 35, 35.15, 35.3, 35.45, 35.6, 35.75, 35.9, 36.05, 36.2, 36.35, 36.5, 36.65, 36.8],
  [34.2, 34.35, 34.5, 34.65, 34.8, 34.95, 35.1, 35.25, 35.4, 35.55, 35.7, 35.85, 36, 36.15, 36.3, 36.45, 36.6, 36.75, 36.85],
  [33.85, 34, 34.15, 34.3, 34.45, 34.6, 34.75, 34.9, 35.05, 35.2, 35.35, 35.5, 35.65, 35.8, 35.95, 36.1, 36.25, 36.4, 36.55, 36.7, 36.85],
  [33.5, 33.65, 33.8, 33.95, 34.1, 34.25, 34.4, 34.55, 34.7, 34.85, 35, 35.15, 35.3, 35.45, 35.6, 35.75, 35.9, 36.05, 36.2, 36.35, 36.5, 36.65, 36.8],
  [33.25, 33.4, 33.55, 33.7, 33.85, 34, 34.15, 34.3, 34.45, 34.6, 34.75, 34.9, 35.05, 35.2, 35.35, 35.5, 35.65, 35.8, 35.95, 36.1, 36.25, 36.4, 36.55, 36.7, 36.85],
  [33.05, 33.2, 33.35, 33.5, 33.65, 33.8, 33.95, 34.1, 34.25, 34.4, 34.55, 34.7, 34.85, 35, 35.15, 35.3, 35.45, 35.6, 35.75, 35.9, 36.05, 36.2, 36.35, 36.5, 36.65, 36.8],
  [32.85, 33, 33.15, 33.3, 33.45, 33.6, 33.75, 33.9, 34.05, 34.2, 34.35, 34.5, 34.65, 34.8, 34.95, 35.1, 35.25, 35.4, 35.55, 35.7, 35.85, 36, 36.15, 36.3, 36.45, 36.6, 36.75],
  [32.75, 32.9, 33.05, 33.2, 33.35, 33.5, 33.65, 33.8, 33.95, 34.1, 34.25, 34.4, 34.55, 34.7, 34.85, 35, 35.15, 35.3, 35.45, 35.6, 35.75, 35.9, 36.05, 36.2, 36.35, 36.5, 36.65, 36.75],
  [32.55, 32.7, 32.85, 33, 33.15, 33.3, 33.45, 33.6, 33.75, 33.9, 34.05, 34.2, 34.35, 34.5, 34.65, 34.8, 34.95, 35.1, 35.25, 35.4, 35.55, 35.7, 35.85, 36, 36.15, 36.3, 36.45, 36.6, 36.7],
  [32.4, 32.55, 32.7, 32.85, 33, 33.15, 33.3, 33.45, 33.6, 33.75, 33.9, 34.05, 34.2, 34.35, 34.5, 34.65, 34.8, 34.95, 35.1, 35.25, 35.4, 35.55, 35.7, 35.85, 36, 36.15, 36.3, 36.45, 36.6, 36.7],
  [32.35, 32.5, 32.65, 32.8, 32.95, 33.1, 33.25, 33.4, 33.55, 33.7, 33.85, 34, 34.15, 34.3, 34.45, 34.6, 34.75, 34.9, 35.05, 35.2, 35.35, 35.5, 35.65, 35.8, 35.95, 36.1, 36.25, 36.4, 36.55, 36.7],
  [32.3, 32.45, 32.6, 32.75, 32.9, 33.05, 33.2, 33.35, 33.5, 33.65, 33.8, 33.95, 34.1, 34.25, 34.4, 34.55, 34.7, 34.85, 35, 35.15, 35.3, 35.45, 35.6, 35.75, 35.9, 36.05, 36.2, 36.35, 36.5, 36.65],
  [32.4, 32.55, 32.7, 32.85, 33, 33.15, 33.3, 33.45, 33.6, 33.75, 33.9, 34.05, 34.2, 34.35, 34.5, 34.65, 34.8, 34.95, 35.1, 35.25, 35.4, 35.55, 35.7, 35.85, 36, 36.15, 36.3, 36.45, 36.6, 36.7],
  [32.5, 32.65, 32.8, 32.95, 33.1, 33.25, 33.4, 33.55, 33.7, 33.85, 34, 34.15, 34.3, 34.45, 34.6, 34.75, 34.9, 35.05, 35.2, 35.35, 35.5, 35.65, 35.8, 35.95, 36.1, 36.25, 36.4, 36.55, 36.65],
  [32.65, 32.8, 32.95, 33.1, 33.25, 33.4, 33.55, 33.7, 33.85, 34, 34.15, 34.3, 34.45, 34.6, 34.75, 34.9, 35.05, 35.2, 35.35, 35.5, 35.65, 35.8, 35.95, 36.1, 36.25, 36.4, 36.6],
  [32.75, 32.9, 33.05, 33.2, 33.35, 33.5, 33.65, 33.8, 33.95, 34.1, 34.25, 34.4, 34.55, 34.7, 34.85, 35, 35.15, 35.3, 35.45, 35.6, 35.75, 35.9, 36.05, 36.2, 36.35, 36.5, 36.6],
  [33, 33.15, 33.3, 33.45, 33.6, 33.75, 33.9, 34.05, 34.2, 34.35, 34.5, 34.65, 34.8, 34.95, 35.1, 35.25, 35.4, 35.55, 35.7, 35.85, 36, 36.15, 36.3, 36.45, 36.6],
  [33.2, 33.35, 33.5, 33.65, 33.8, 33.95, 34.1, 34.25, 34.4, 34.55, 34.7, 34.85, 35, 35.15, 35.3, 35.45, 35.6, 35.75, 35.9, 36.05, 36.2, 36.35, 36.5],
  [33.45, 33.6, 33.75, 33.9, 34.05, 34.2, 34.35, 34.5, 34.65, 34.8, 34.95, 35.1, 35.25, 35.4, 35.55, 35.7, 35.85, 36, 36.15, 36.3, 36.5],
  [33.6, 33.75, 33.9, 34.05, 34.2, 34.35, 34.5, 34.65, 34.8, 34.95, 35.1, 35.25, 35.4, 35.55, 35.7, 35.85, 36, 36.15, 36.3, 36.4],
  [33.85, 34, 34.15, 34.3, 34.45, 34.6, 34.75, 34.9, 35.05, 35.2, 35.35, 35.5, 35.65, 35.8, 35.95, 36.1, 36.3],
  [34.2, 34.35, 34.5, 34.65, 34.8, 34.95, 35.1, 35.25, 35.4, 35.55, 35.7, 35.85, 36, 36.1],
  [34.4, 34.55, 34.7, 34.85, 35, 35.15, 35.3, 35.45, 35.6, 35.75, 35.9],
  [34.6, 34.75, 34.9, 35.05, 35.2, 35.35, 35.5, 35.65],
  [34.8, 34.95, 35.1, 35.25, 35.4, 35.55],
  [35, 35.15, 35.3],
];
const scatterYTicks = ["0", "0.005", "0.01", "0.015", "0.02", "0.025", "0.03", "0.035", "0.04", "0.045", "0.05"];
const scatterXTicks = [25, 30, 35];
const solidFromSSS = 33.2;

// ---------- helpers ----------
const FONT = '"DejaVu Sans"';
const TXT = "#404040";
const colLat = (c: number) => 3.05 + c / 10;

function expandCells(rows: [number, number, string][]) {
  const data: { x: number; y: number[] }[] = [];
  const colors: string[] = [];
  rows.forEach(([row, start, codes]) => {
    codes.split("").forEach((ch, i) => {
      const lvl = levelCodes.indexOf(ch);
      if (lvl <= 0) return;
      data.push({ x: colLat(start + i), y: [depthEdges[row] - 0.04, depthEdges[row + 1] + 0.04] });
      colors.push(levelColors[lvl]);
    });
  });
  return { data, colors };
}

function expandMask(rects: [number, number, number, number][]) {
  const data: { x: number; y: number[] }[] = [];
  rects.forEach(([a, b, d0, d1]) => {
    for (let c = a; c <= b; c++) data.push({ x: colLat(c), y: [d0, d1] });
  });
  return data;
}

const zipLine = (p: number[][]) => p[0].map((x, i) => ({ x, y: p[1][i] }));

function lineSet(p: number[][], color: string, width: number, order: number) {
  return { type: "line", data: zipLine(p), borderColor: color, borderWidth: width, pointRadius: 0, tension: 0, fill: false, borderJoinStyle: "round", order };
}

type Seg = [number, number, string];
type FrameOpts = {
  bottom?: number[]; top?: number[]; left?: number[]; right?: number[];
  len: number; tickColor: string; tickWidth: number;
  boxColor: string; boxWidth: number;
  leftColor?: string; topBase?: string; topSegs?: Seg[];
};

function framePlugin(o: FrameOpts) {
  return {
    id: "frame",
    afterDraw(chart: any) {
      const { ctx, chartArea: a, scales } = chart;
      const line = (x0: number, y0: number, x1: number, y1: number, c: string, w: number) => {
        ctx.strokeStyle = c; ctx.lineWidth = w; ctx.beginPath(); ctx.moveTo(x0, y0); ctx.lineTo(x1, y1); ctx.stroke();
      };
      ctx.save();
      line(a.left, a.top, a.left, a.bottom, o.leftColor || o.boxColor, o.boxWidth);
      line(a.right, a.top, a.right, a.bottom, o.boxColor, o.boxWidth);
      line(a.left, a.bottom, a.right, a.bottom, o.boxColor, o.boxWidth);
      line(a.left, a.top, a.right, a.top, o.topBase || o.boxColor, o.boxWidth);
      (o.topSegs || []).forEach(([l0, l1, c]) => line(scales.x.getPixelForValue(l0), a.top, scales.x.getPixelForValue(l1), a.top, c, o.boxWidth));
      (o.bottom || []).forEach((v) => { const x = scales.x.getPixelForValue(v); line(x, a.bottom, x, a.bottom - o.len, o.tickColor, o.tickWidth); });
      (o.top || []).forEach((v) => { const x = scales.x.getPixelForValue(v); line(x, a.top, x, a.top + o.len, o.tickColor, o.tickWidth); });
      (o.left || []).forEach((v) => { const y = scales.y.getPixelForValue(v); line(a.left, y, a.left + o.len, y, o.tickColor, o.tickWidth); });
      (o.right || []).forEach((v) => { const y = scales.y.getPixelForValue(v); line(a.right, y, a.right - o.len, y, o.tickColor, o.tickWidth); });
      ctx.restore();
    },
  };
}

function titlePlugin(rest: string) {
  return {
    id: "panelTitle",
    afterDatasetsDraw(chart: any) {
      const { ctx, scales } = chart;
      const y = scales.y.getPixelForValue(72.4);
      ctx.save();
      ctx.fillStyle = "#000";
      ctx.textBaseline = "alphabetic";
      ctx.textAlign = "left";
      ctx.font = `bold 52px ${FONT}`;
      ctx.fillText("N", scales.x.getPixelForValue(13.03), y);
      ctx.fillText(rest, scales.x.getPixelForValue(13.85), y);
      ctx.font = `bold 38px ${FONT}`;
      ctx.fillText("2", scales.x.getPixelForValue(13.42), y - 25);
      ctx.restore();
    },
  };
}

const fixedWidth = (w: number) => (s: any) => { s.width = w; };
const fixedHeight = (h: number) => (s: any) => { s.height = h; };
// a blank first line, with a small line height, lowers a vertical-axis label to the digits' optical centre
const lowered = (text: string) => ["", text];
const LOWER_LINE = "6px";

function heatConfig(opts: { cells: [number, number, string][]; mask?: [number, number, number, number][]; gray: number[][][]; black: number[][][]; top: number; bottom: number; width: number; height: number; frame: FrameOpts; title: string }) {
  const { data, colors } = expandCells(opts.cells);
  const datasets: any[] = [];
  opts.gray.forEach((g) => datasets.push(lineSet(g, "#9c9c9c", 9, 0)));
  opts.black.forEach((b) => datasets.push(lineSet(b, "#000000", 4.2, 1)));
  datasets.push({ type: "bar", data, backgroundColor: colors, borderWidth: 0, grouped: false, barPercentage: 1.03, categoryPercentage: 1, order: 2 });
  if (opts.mask) datasets.push({ type: "bar", data: expandMask(opts.mask), backgroundColor: "#ffffff", borderWidth: 0, grouped: false, barPercentage: 1.03, categoryPercentage: 1, order: 3 });
  return {
    type: "bar",
    data: { datasets },
    plugins: [framePlugin(opts.frame), titlePlugin(opts.title)],
    options: {
      responsive: false, animation: false, events: [], devicePixelRatio: 1,
      layout: { padding: { top: opts.top, right: opts.width - 2169.5, left: 0, bottom: 0 } },
      plugins: { legend: { display: false }, tooltip: { enabled: false } },
      scales: {
        x: {
          type: "linear", min: 3, max: 20, offset: false,
          grid: { offset: false, color: "#e3e3e3", lineWidth: 1.6, drawTicks: false },
          border: { display: false },
          afterBuildTicks: (s: any) => { s.ticks = latTicks.map((value) => ({ value })); },
          afterFit: fixedHeight(opts.height - opts.bottom),
          ticks: { autoSkip: false, maxRotation: 0, padding: 30, color: TXT, font: { family: FONT, size: 49 }, callback: (v: number) => (v < 10 ? ` ${v}°S` : `${v}°S`) },
        },
        y: {
          type: "linear", min: 3, max: 80, reverse: true,
          grid: { color: "#e8e8e8", lineWidth: 2.6, drawTicks: false },
          border: { display: false },
          afterBuildTicks: (s: any) => { s.ticks = depthTicks.map((value) => ({ value })); },
          afterFit: fixedWidth(214),
          title: { display: true, text: "Depth /dbar", color: TXT, font: { family: FONT, size: 56 }, padding: { top: 45, bottom: 0 } },
          ticks: { autoSkip: false, padding: 24, color: TXT, font: { family: FONT, size: 49, lineHeight: LOWER_LINE }, callback: (v: number) => lowered(String(v)) },
        },
      },
    },
  };
}

function colorbarConfig(top: number, bottom: number, height: number) {
  const datasets = levelColors.map((c, i) => ({ data: [[levelEdges[i], levelEdges[i + 1]]], backgroundColor: c, borderWidth: 0, grouped: false, barPercentage: 1, categoryPercentage: 1 }));
  const plugin = {
    id: "cbFrame",
    afterDraw(chart: any) {
      const { ctx, chartArea: a, scales } = chart;
      ctx.save();
      ctx.strokeStyle = "#4a4a4a"; ctx.lineWidth = 2;
      colorbarTicks.forEach((v) => {
        const y = scales.y.getPixelForValue(v);
        const len = colorbarLabels.includes(v) ? 9 : 5;
        ctx.beginPath(); ctx.moveTo(a.right, y); ctx.lineTo(a.right - len, y); ctx.stroke();
      });
      ctx.strokeStyle = "#777777"; ctx.lineWidth = 3;
      ctx.strokeRect(a.left, a.top, a.right - a.left, a.bottom - a.top);
      ctx.restore();
    },
  };
  return {
    type: "bar",
    data: { labels: ["N2"], datasets },
    plugins: [plugin],
    options: {
      responsive: false, animation: false, events: [], devicePixelRatio: 1,
      layout: { padding: { top, left: 37, right: 0, bottom: height - bottom } },
      plugins: { legend: { display: false }, tooltip: { enabled: false } },
      scales: {
        x: { display: false },
        y: {
          type: "logarithmic", position: "right", min: 0.4, max: 2,
          grid: { display: false, drawTicks: false }, border: { display: false },
          afterBuildTicks: (s: any) => { s.ticks = colorbarTicks.map((value) => ({ value })); },
          afterFit: fixedWidth(119),
          ticks: { autoSkip: false, padding: 22, color: TXT, font: { family: FONT, size: 44, lineHeight: "8px" }, callback: (v: number) => (colorbarLabels.includes(v) ? lowered(String(v)) : "") },
        },
      },
    },
  };
}

function scatterConfig() {
  const pts: { x: number; y: number }[] = [];
  sparseSSS.forEach((x, i) => pts.push({ x, y: sparseN2[i] / 1000 }));
  midSSS.forEach((x, i) => pts.push({ x, y: midN2[i] / 1000 }));
  speckSSS.forEach((row, r) => row.forEach((x) => pts.push({ x, y: speckN2[r] / 1000 })));
  const core: { x: number; y: number }[] = [];
  cloudSSS.forEach((row, r) => row.forEach((x) => (x < solidFromSSS ? pts : core).push({ x, y: cloudN2[r] / 1000 })));
  const ylabelPlugin = {
    id: "n2Label",
    afterDraw(chart: any) {
      const { ctx, chartArea: a, scales } = chart;
      const base = a.left - 166;
      const mid = scales.y.getPixelForValue(0.0232);
      ctx.save();
      ctx.fillStyle = TXT; ctx.textAlign = "left"; ctx.textBaseline = "alphabetic";
      ctx.translate(base, mid);
      ctx.rotate(-Math.PI / 2);
      ctx.font = `49px ${FONT}`;
      ctx.fillText("N", 0, 0);
      ctx.font = `36px ${FONT}`;
      ctx.fillText("2", 42, -22);
      ctx.restore();
    },
  };
  return {
    type: "scatter",
    data: {
      datasets: [
        { type: "line", data: zipLine([scatterFit[0], scatterFit[1].map((v) => v / 1000)]), borderColor: "rgba(255,0,0,0.72)", borderWidth: 2.4, pointRadius: 0, order: 0 },
        { data: pts, backgroundColor: "#000000", borderWidth: 0, pointRadius: 4, pointHoverRadius: 4, order: 1 },
        { data: core, backgroundColor: "#000000", borderWidth: 0, pointRadius: 5.6, pointHoverRadius: 5.6, order: 2 },
      ],
    },
    plugins: [ylabelPlugin, framePlugin({ bottom: scatterXTicks, top: scatterXTicks, left: scatterYTicks.map(Number).slice(1, -1), right: scatterYTicks.map(Number).slice(1, -1), len: 16, tickColor: "#6a6a6a", tickWidth: 2, boxColor: "#8c8c8c", boxWidth: 3 })],
    options: {
      responsive: false, animation: false, events: [], devicePixelRatio: 1,
      layout: { padding: { top: 173, right: 48.6, left: 0, bottom: 0 } },
      plugins: { legend: { display: false }, tooltip: { enabled: false } },
      scales: {
        x: {
          type: "linear", min: 23, max: 37,
          grid: { color: "#e3e3e3", lineWidth: 1.6, drawTicks: false }, border: { display: false },
          afterBuildTicks: (s: any) => { s.ticks = scatterXTicks.map((value) => ({ value })); },
          afterFit: fixedHeight(194),
          title: { display: true, text: "SSS", color: TXT, font: { family: FONT, size: 46 }, padding: { top: 0, bottom: 45 } },
          ticks: { autoSkip: false, maxRotation: 0, padding: 30, color: TXT, font: { family: FONT, size: 42 }, callback: (v: number) => String(v) },
        },
        y: {
          type: "linear", min: 0, max: 0.05,
          grid: { color: "#e8e8e8", lineWidth: 2.6, drawTicks: false }, border: { display: false },
          afterBuildTicks: (s: any) => { s.ticks = scatterYTicks.map((t) => ({ value: Number(t) })); },
          afterFit: fixedWidth(261),
          ticks: { autoSkip: false, padding: 23, color: TXT, font: { family: FONT, size: 42, lineHeight: "7px" }, callback: (v: number) => lowered(String(v)) },
        },
      },
    },
  };
}

function Panel({ make, left, top, width, height }: { make: () => any; left: number; top: number; width: number; height: number }) {
  const ref = useRef<HTMLCanvasElement | null>(null);
  useEffect(() => {
    if (!ref.current) return;
    const chart = new Chart(ref.current, make());
    return () => chart.destroy();
  }, []);
  return <canvas ref={ref} width={width} height={height} style={{ position: "absolute", left, top, width, height, display: "block", filter: "blur(0.7px)" }} />;
}

const MID_GRAY = "#bdbdbd";
const DARK = "#666666";

export default function App() {
  return (
    <div style={{ position: "absolute", left: 0, top: 0, width: 3552, height: 1982, background: "#fff", overflow: "hidden" }}>
      <Panel left={0} top={0} width={2260} height={930} make={() => heatConfig({
        cells: marCells, gray: [marGray0, marGray1, marGray2],
        black: [marBlack0, marBlack1, marBlack2, marBlack3, marBlack4, marBlack5, marBlack6, marBlack7, marBlack8, marBlack9, marBlack10, marBlack11, marBlack12],
        top: 69, bottom: 816, width: 2260, height: 930, title: "in Mar, shelf",
        frame: { bottom: latTicks.slice(0, -1), top: latTicks.slice(0, -1), left: depthTicks.slice(0, -1), right: depthTicks.slice(0, -1), len: 20, tickColor: "#404040", tickWidth: 2, boxColor: "#777777", boxWidth: 3 },
      })} />
      <Panel left={0} top={980} width={2260} height={1000} make={() => heatConfig({
        cells: augCells, mask: augMask, gray: [augGray0, augGray1, augGray2, augGray3],
        black: [augBlack0, augBlack1, augBlack2, augBlack3, augBlack4, augBlack5, augBlack6, augBlack7, augBlack8, augBlack9],
        top: 125, bottom: 866, width: 2260, height: 1000, title: "in Aug, shelf",
        frame: { bottom: [4, 18], top: [18], right: depthTicks.slice(0, -1), len: 20, tickColor: "#404040", tickWidth: 2, boxColor: "#777777", boxWidth: 3, leftColor: "#b8b8b8", topBase: MID_GRAY, topSegs: [[3, 3.6, DARK], [4, 4.4, DARK], [17.9, 20, DARK]] },
      })} />
      <Panel left={2240} top={0} width={240} height={930} make={() => colorbarConfig(69.6, 815.5, 930)} />
      <Panel left={2240} top={980} width={240} height={1000} make={() => colorbarConfig(125, 866, 1000)} />
      <Panel left={2440} top={0} width={1112} height={1982} make={scatterConfig} />
    </div>
  );
}
